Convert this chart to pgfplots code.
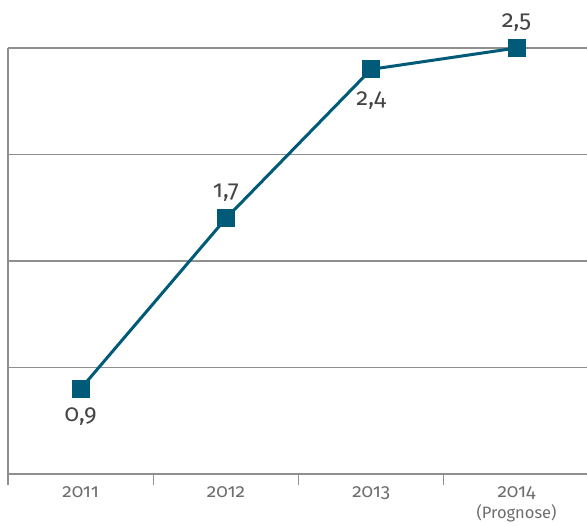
\documentclass[border=0pt]{standalone}
\usepackage{fontspec}
\setmainfont{Fira Sans}[Numbers=OldStyle]
\newfontfamily\lab{Fira Sans}[Numbers=OldStyle]
\usepackage{pgfplots}
\pgfplotsset{compat=1.18}
\definecolor{teal}{HTML}{005A78}
\definecolor{gridgray}{HTML}{8F8F8F}
\definecolor{ticktext}{HTML}{6E6E6E}
\definecolor{labtext}{HTML}{454545}
\begin{document}
\begin{tikzpicture}[x=1pt,y=1pt]
\begin{axis}[
  at={(8pt,52pt)}, anchor=south west,
  scale only axis, width=579pt, height=426pt,
  xmin=-0.5, xmax=3.485, ymin=0.5, ymax=2.5,
  axis x line*=bottom, axis y line*=left,
  axis line style={gridgray, line width=1.4pt},
  xtick={0,1,2,3},
  xticklabels={\mbox{\lab 2011},\mbox{\lab 2012},\mbox{\lab 2013},{\mbox{\lab 2014}\\[1pt]\mbox{\lab\fontsize{16.5}{17}\selectfont(Prognose)}}},
  xticklabel style={align=center, text=ticktext, font=\lab\fontsize{19}{20}\selectfont, yshift=-9pt},
  minor xtick={-0.5,0.5,1.5,2.5},
  ytick={1,1.5,2,2.5}, yticklabels={},
  ymajorgrids, grid style={gridgray, line width=1.4pt},
  major tick length=0pt,
  minor tick length=11pt,
  tick align=outside,
  minor tick style={gridgray, line width=1.2pt},
  clip=false,
]
\addplot[teal, line width=3pt, mark=square*, mark size=8.5pt, mark options={solid, fill=teal, draw=teal, line width=0pt}]
  coordinates {(0,0.9) (1,1.7) (2,2.4) (3,2.5)};
\addplot[draw=none, mark=none, nodes near coords={\mbox{\lab\pgfplotspointmeta}}, point meta=explicit symbolic,
  every node near coord/.append style={anchor=north, yshift=-15pt, text=labtext, font=\lab\fontsize{24}{25}\selectfont}]
  table[meta=l] {
x y l
0 0.9 {0,9}
};
\addplot[draw=none, mark=none, nodes near coords={\mbox{\lab\pgfplotspointmeta}}, point meta=explicit symbolic,
  every node near coord/.append style={anchor=north, yshift=-19pt, text=labtext, font=\lab\fontsize{24}{25}\selectfont}]
  table[meta=l] {
x y l
2 2.4 {2,4}
};
\addplot[draw=none, mark=none, nodes near coords={\mbox{\lab\pgfplotspointmeta}}, point meta=explicit symbolic,
  every node near coord/.append style={anchor=south, yshift=13pt, text=labtext, font=\lab\fontsize{24}{25}\selectfont}]
  table[meta=l] {
x y l
1 1.7 {1,7}
3 2.5 {2,5}
};
\end{axis}
\pgfresetboundingbox
\path (0,0) rectangle (587,526);
\end{tikzpicture}
\end{document}
